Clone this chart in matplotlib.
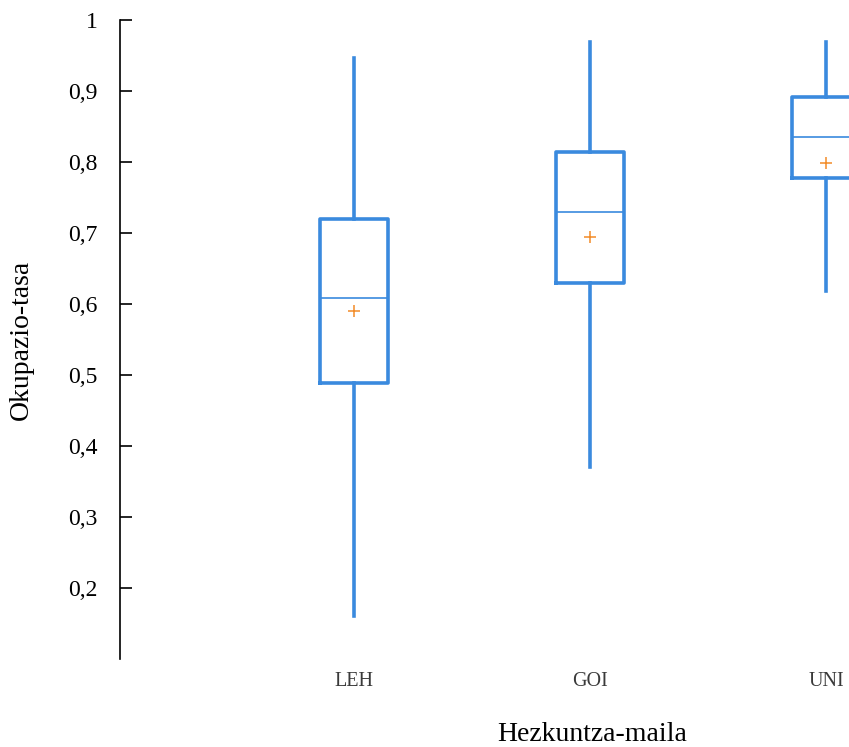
import matplotlib
matplotlib.use("Agg")
import matplotlib.pyplot as plt

plt.rcParams['font.family'] = ['Liberation Serif', 'DejaVu Serif']

categories = ["LEH", "GOI", "UNI"]
whisker_low = [0.16, 0.37, 0.618]
q1 = [0.489, 0.630, 0.778]
medians = [0.608, 0.730, 0.835]
q3 = [0.720, 0.814, 0.892]
whisker_high = [0.947, 0.969, 0.969]
means = [0.590, 0.694, 0.799]

y_ticks = [0.2, 0.3, 0.4, 0.5, 0.6, 0.7, 0.8, 0.9, 1.0]
y_tick_labels = ["0,2", "0,3", "0,4", "0,5", "0,6", "0,7", "0,8", "0,9", "1"]

blue = "#3a8ade"
orange = "#f28c28"

stats = []
for i in range(len(categories)):
    stats.append({
        "label": categories[i],
        "whislo": whisker_low[i],
        "q1": q1[i],
        "med": medians[i],
        "q3": q3[i],
        "whishi": whisker_high[i],
        "mean": means[i],
        "fliers": [],
    })

fig = plt.figure(figsize=(8.49, 7.47), dpi=100)
ax = fig.add_axes([0.1413, 0.1178, 0.8587, 0.8554])

positions = list(range(1, len(categories) + 1))
ax.bxp(stats, positions=positions, widths=0.29, showmeans=True, showcaps=False,
       boxprops=dict(color=blue, linewidth=2.6),
       whiskerprops=dict(color=blue, linewidth=2.6),
       medianprops=dict(color=blue, linewidth=1.2),
       meanprops=dict(marker="+", markeredgecolor=orange, markersize=9,
                      markeredgewidth=1.1, linestyle="none"))

ax.set_xlim(0.0085, 3.097)
ax.set_ylim(0.1, 1.0)

ax.set_yticks(y_ticks)
ax.set_yticklabels(y_tick_labels)
ax.tick_params(axis="y", direction="in", length=8.6, width=1.2, pad=16, labelsize=17)
ax.tick_params(axis="x", length=0, pad=9, labelsize=14.5, labelcolor="#3a3a3a")

for side in ["top", "right", "bottom"]:
    ax.spines[side].set_visible(False)
ax.spines["left"].set_linewidth(1.2)

ax.set_xlabel("Hezkuntza-maila", fontsize=20)
ax.xaxis.set_label_coords(0.647, -0.098)
ax.set_ylabel("Okupazio-tasa", fontsize=20)
ax.yaxis.set_label_coords(-0.118, 0.5)

fig.savefig("out.png", dpi=100)
